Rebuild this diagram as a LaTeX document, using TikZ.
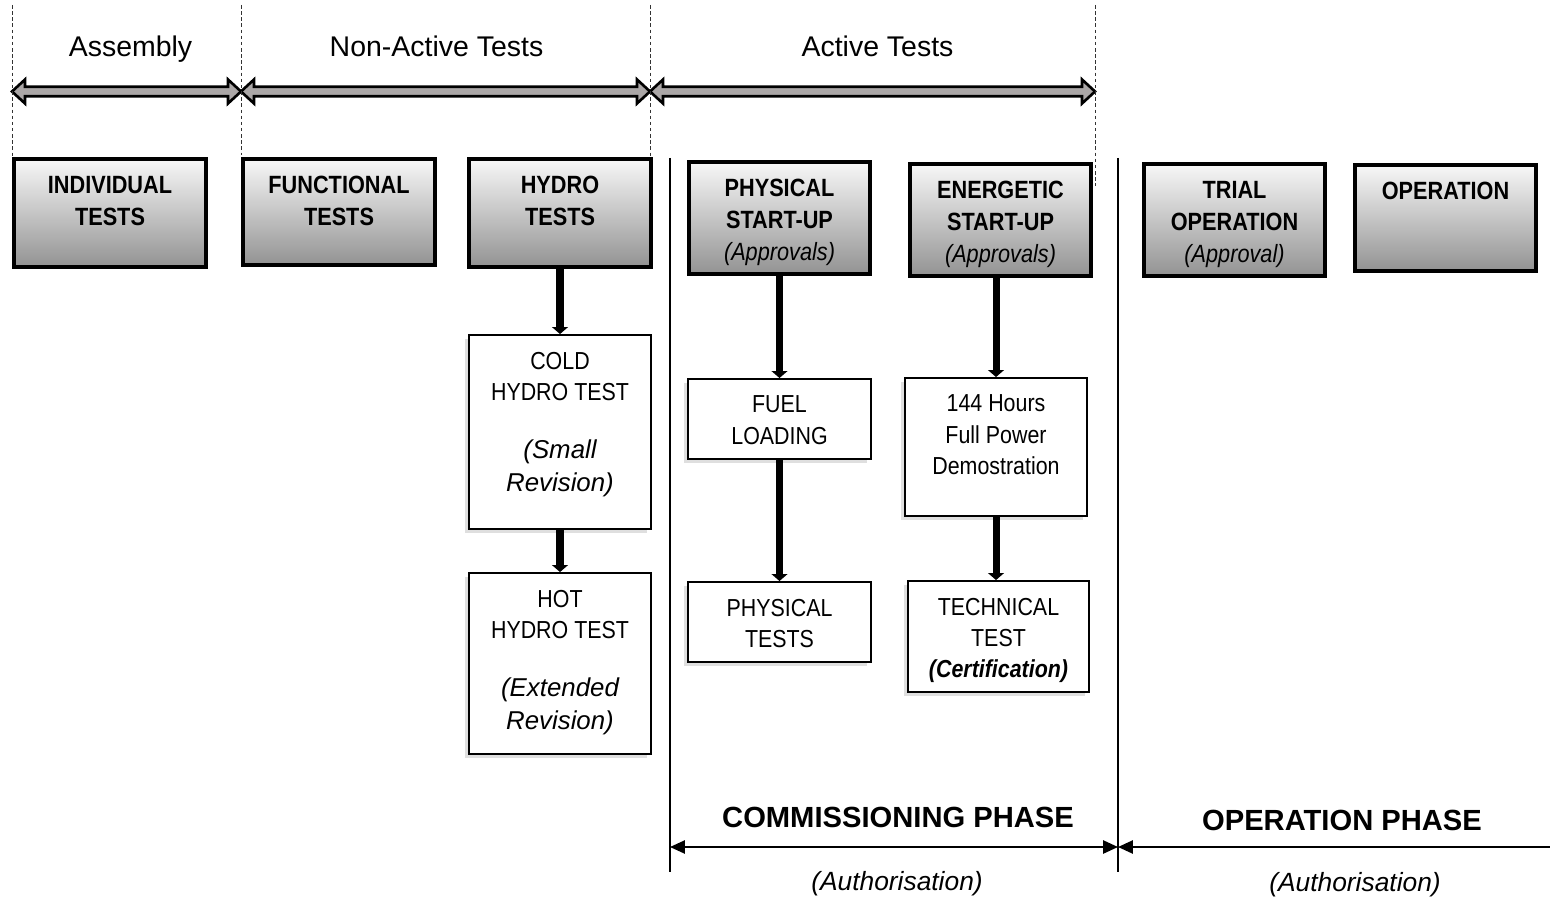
\documentclass[tikz,border=0pt]{standalone}
\usepackage{fontspec}
\setmainfont{Liberation Sans}
\newfontfamily\narrowfont[FakeStretch=0.87]{Liberation Sans}
\usetikzlibrary{arrows.meta,shadows}
\definecolor{bargray}{HTML}{ABA7A7}

\begin{document}
\begin{tikzpicture}[x=0.02cm,y=-0.02cm,
    topbox/.style={draw,line width=2pt,top color=gray!6,bottom color=gray!85,
        minimum width=3.62cm,minimum height=2.2cm},
    subbox/.style={draw,line width=1.1pt,fill=white,minimum width=3.64cm,
        drop shadow={shadow xshift=-0.08cm,shadow yshift=-0.08cm,opacity=0.25}},
    boxtext/.style={anchor=north,yshift=-0.37cm,inner sep=0pt,align=center},
    toptext/.style={boxtext,font=\narrowfont\bfseries\fontsize{14.2}{18.2}\selectfont},
    subtext/.style={boxtext,yshift=0.02cm,font=\narrowfont\fontsize{14}{17.9}\selectfont},
    phase/.style={anchor=base,font=\fontsize{16.2}{19}\selectfont},
    stage/.style={anchor=base,font=\bfseries\fontsize{16.6}{20}\selectfont},
    auth/.style={anchor=base,font=\itshape\fontsize{15}{18}\selectfont},
    bar/.style={fill=bargray,draw=black,line width=1.5pt,line join=miter},
    guide/.style={dash pattern=on 2pt off 1.5pt,line width=0.5pt,black!80},
    flow/.style={line width=4pt,-{Triangle[width=9pt,length=4pt]}},
    span/.style={line width=1.1pt}]
    \useasboundingbox (0,0) rectangle (1550,898);

    % phases of the tests
    \node[phase] (asm) at (130.5,57) {Assembly};
    \node[phase] (nat) at (436.5,57) {Non-Active Tests};
    \node[phase] (act) at (877.5,57) {Active Tests};
    \foreach \a/\b in {12/241,241/650,650/1095}
        \filldraw[bar] (\a,91.5) -- ({\a+13},79.5) -- ({\a+13},86.8) -- ({\b-13},86.8)
            -- ({\b-13},79.5) -- (\b,91.5) -- ({\b-13},103.5) -- ({\b-13},96.2)
            -- ({\a+13},96.2) -- ({\a+13},103.5) -- cycle;
    \foreach \x/\y in {12/157,241/155,650/182,1095/186}
        \draw[guide] (\x,5) -- (\x,\y);
    \foreach \x in {670,1118}
        \draw[line width=0.9pt] (\x,158) -- (\x,872);

    % main steps
    \node[topbox,minimum width=3.84cm,minimum height=2.16cm,
        label={[toptext]north:{INDIVIDUAL\\TESTS}}] (ind) at (110,213) {};
    \node[topbox,minimum width=3.84cm,minimum height=2.12cm,
        label={[toptext]north:{FUNCTIONAL\\TESTS}}] (fun) at (339,212) {};
    \node[topbox,minimum width=3.64cm,minimum height=2.16cm,
        label={[toptext]north:{HYDRO\\TESTS}}] (hyd) at (560,213) {};
    \node[topbox,minimum height=2.24cm,
        label={[toptext]north:{PHYSICAL\\START-UP\\{\mdseries\itshape (Approvals)}}}] (phy) at (779.5,218) {};
    \node[topbox,minimum height=2.24cm,
        label={[toptext]north:{ENERGETIC\\START-UP\\{\mdseries\itshape (Approvals)}}}] (ene) at (1000.5,220) {};
    \node[topbox,minimum height=2.24cm,
        label={[toptext]north:{TRIAL\\OPERATION\\{\mdseries\itshape (Approval)}}}] (tri) at (1234.5,220) {};
    \node[topbox,minimum height=2.12cm,
        label={[toptext]north:{OPERATION}}] (ope) at (1445.5,218) {};

    % sub steps
    \node[subbox,minimum height=3.88cm,
        label={[subtext]north:{COLD\\HYDRO TEST\\[15pt]{\rmfamily\itshape\fontsize{14.7}{18}\selectfont (Small}\\[1pt]{\rmfamily\itshape\fontsize{14.7}{18}\selectfont Revision)}}}] (cold) at (560,432) {};
    \node[subbox,minimum height=3.62cm,
        label={[subtext]north:{HOT\\HYDRO TEST\\[15pt]{\rmfamily\itshape\fontsize{14.7}{18}\selectfont (Extended}\\[1pt]{\rmfamily\itshape\fontsize{14.7}{18}\selectfont Revision)}}}] (hot) at (560,663.5) {};
    \node[subbox,minimum width=3.66cm,minimum height=1.6cm,
        label={[subtext]north:{FUEL\\LOADING}}] (fuel) at (779.5,419) {};
    \node[subbox,minimum width=3.66cm,minimum height=1.6cm,
        label={[subtext]north:{PHYSICAL\\TESTS}}] (ptest) at (779.5,622) {};
    \node[subbox,minimum height=2.76cm,
        label={[subtext]north:{144 Hours\\Full Power\\Demostration}}] (hours) at (996,447) {};
    \node[subbox,minimum width=3.62cm,minimum height=2.22cm,
        label={[subtext]north:{TECHNICAL\\TEST\\{\bfseries\itshape (Certification)}}}] (tech) at (998.5,636.5) {};

    \draw[flow] (hyd.south) -- (hyd.south |- cold.north);
    \draw[flow] (cold.south) -- (hot.north);
    \draw[flow] (phy.south) -- (fuel.north);
    \draw[flow] (fuel.south) -- (ptest.north);
    \draw[flow] (hours.north |- ene.south) -- (hours.north);
    \draw[flow] (hours.south) -- (hours.south |- tech.north);

    % commissioning and operation
    \coordinate (cl) at (670,847);
    \coordinate (cm) at (1118,847);
    \coordinate (cr) at (1550,847);
    \draw[span,{Triangle[length=8.5pt,width=7.5pt]}-{Triangle[length=8.5pt,width=7.5pt]}] (cl) -- (cm);
    \draw[span,{Triangle[length=8.5pt,width=7.5pt]}-] (cm) -- (cr);
    \node[stage] (com) at (898,827) {COMMISSIONING PHASE};
    \node[stage] (opp) at (1342,830) {OPERATION PHASE};
    \node[auth] (coma) at (897,890) {(Authorisation)};
    \node[auth] (oppa) at (1355,891) {(Authorisation)};
\end{tikzpicture}
\end{document}
